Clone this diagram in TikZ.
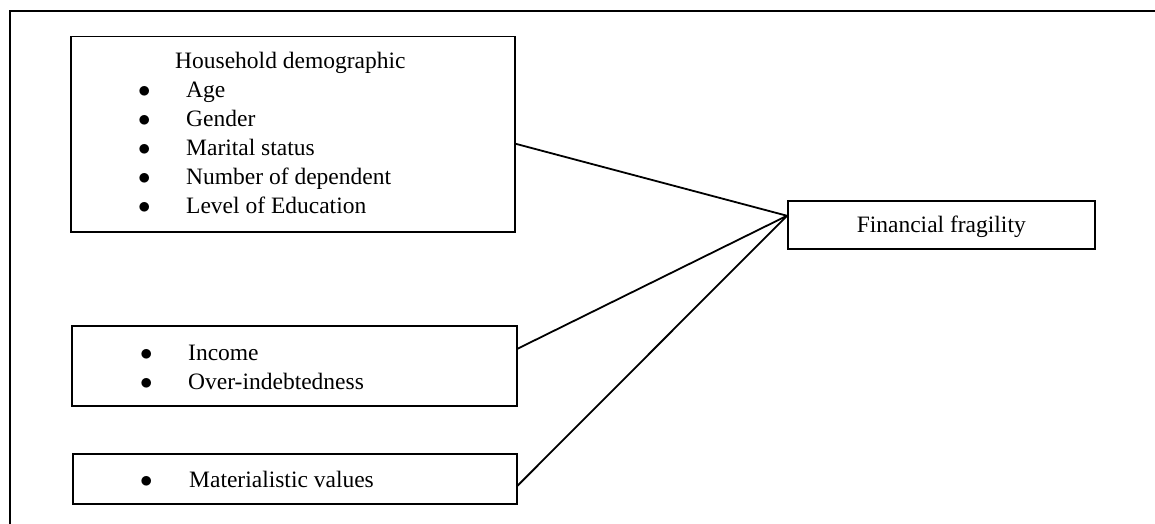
\documentclass[tikz,border=0pt]{standalone}
\usepackage{fontspec}
\setmainfont{Liberation Serif}
\usepackage{array}
\newcommand{\bul}{{\fontsize{29}{29}\selectfont$\bullet$}}
\begin{document}
\begin{tikzpicture}[x=1pt, y=-1pt, line join=miter,
  box/.style={draw, line width=1.5pt, rectangle, inner sep=0pt, anchor=north west},
  txt/.style={anchor=base west, inner sep=0pt, font=\fontsize{23.5}{29}\selectfont}]

\useasboundingbox (0,0) rectangle (1155,524);
\draw[line width=2.6pt] (10,530) -- (10,11) -- (1160,11);

% the four boxes
\node[box, minimum width=444pt, minimum height=195pt] (hh) at (70,36) {};
\node[box, minimum width=445pt, minimum height=80pt] (inc) at (71,325) {};
\node[box, minimum width=444pt, minimum height=50pt] (mat) at (72,453) {};
\node[box, minimum width=307pt, minimum height=48pt, anchor=north west,
  font=\fontsize{23.5}{29}\selectfont, text height=16pt, text depth=0pt] (ff) at (787,200) {Financial fragility};

% texts of the boxes
\node[txt] (hhtext) at (138,69) {\begin{tabular}[t]{@{}p{48pt}@{}l@{}}
  \multicolumn{2}{@{}l}{\hspace{37pt}Household demographic}\\
  \bul & Age\\
  \bul & Gender\\
  \bul & Marital status\\
  \bul & Number of dependent\\
  \bul & Level of Education
\end{tabular}};
\node[txt] (inctext) at (140,360) {\begin{tabular}[t]{@{}p{48pt}@{}l@{}}
  \bul & Income\\
  \bul & Over-indebtedness
\end{tabular}};
\node[txt] (mattext) at (140,487) {\begin{tabular}[t]{@{}p{49pt}@{}l@{}}
  \bul & Materialistic values
\end{tabular}};

% connectors
\coordinate (meet) at ([yshift=9pt]ff.west);
\draw[line width=1.8pt] ([yshift=-9.5pt]hh.east) -- (meet);
\draw[line width=1.8pt] ([yshift=17pt]inc.east) -- (meet);
\draw[line width=1.8pt] ([yshift=-7pt]mat.east) -- (meet);
\end{tikzpicture}
\end{document}
